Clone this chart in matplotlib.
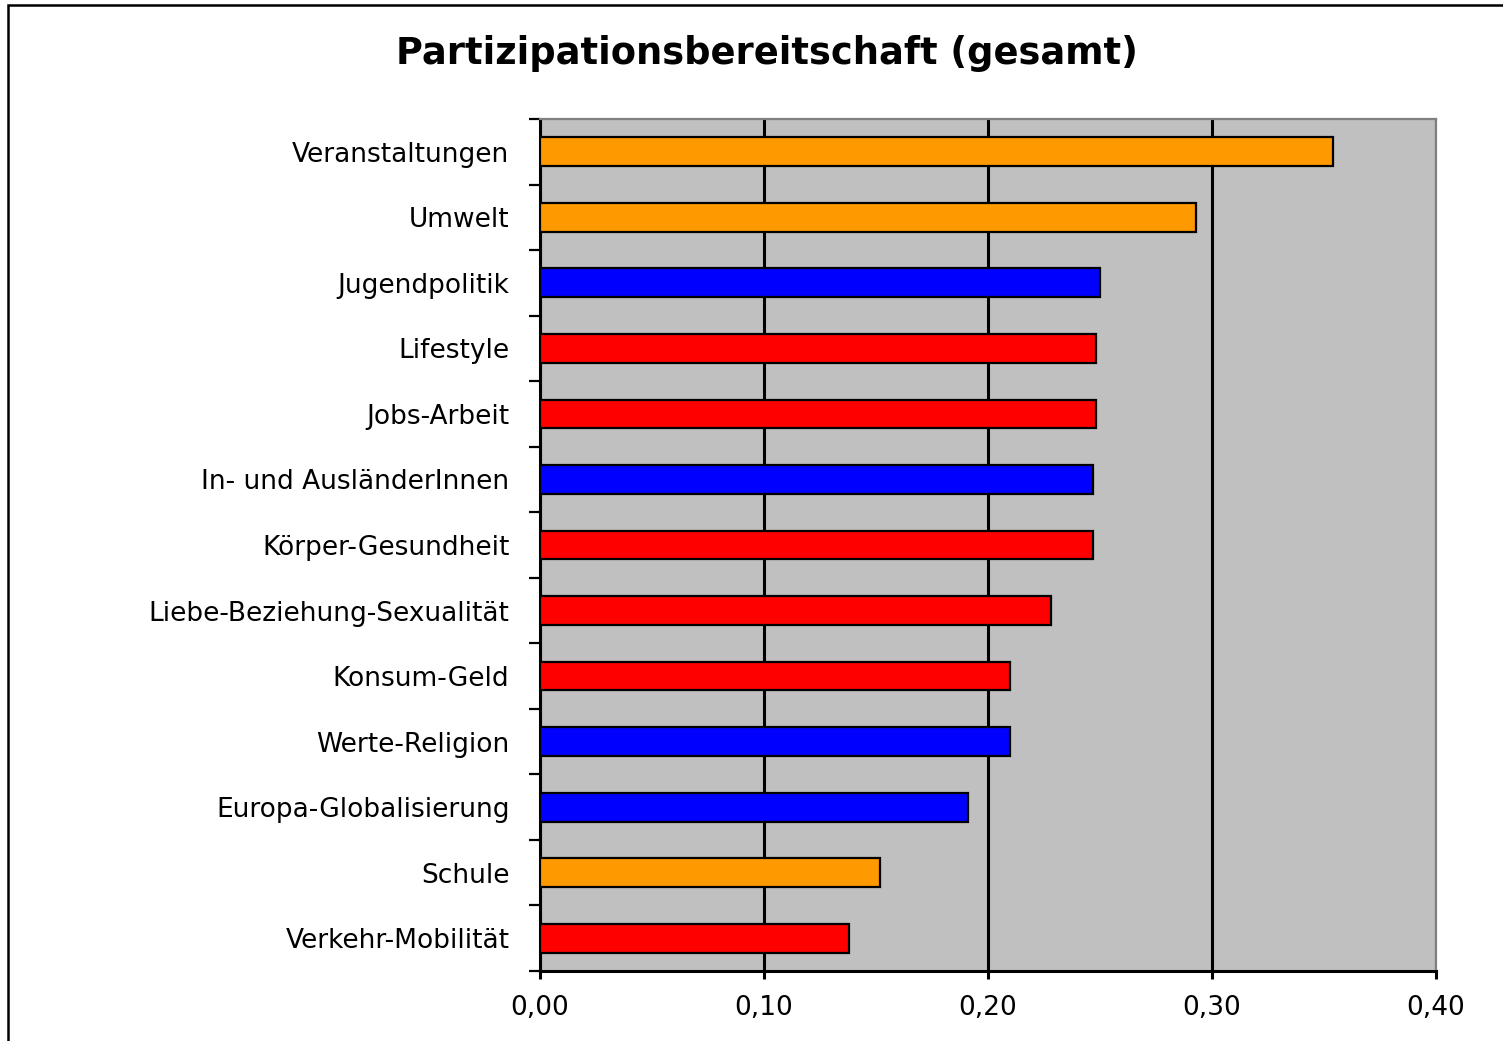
import matplotlib
matplotlib.use("Agg")
import matplotlib.pyplot as plt
from matplotlib.patches import Rectangle
from matplotlib.ticker import FuncFormatter, FixedLocator
import numpy as np

categories = [
    "Veranstaltungen", "Umwelt", "Jugendpolitik", "Lifestyle", "Jobs-Arbeit",
    "In- und AusländerInnen", "Körper-Gesundheit", "Liebe-Beziehung-Sexualität",
    "Konsum-Geld", "Werte-Religion", "Europa-Globalisierung", "Schule",
    "Verkehr-Mobilität",
]
values = [0.354, 0.293, 0.250, 0.248, 0.248, 0.247, 0.247, 0.228,
          0.210, 0.210, 0.191, 0.152, 0.138]
groups = ["orange", "orange", "blue", "red", "red", "blue", "red", "red",
          "red", "blue", "blue", "orange", "red"]
x_ticks = [0.0, 0.1, 0.2, 0.3, 0.4]
title = "Partizipationsbereitschaft (gesamt)"

palette = {"orange": "#FF9900", "blue": "#0000FF", "red": "#FF0000"}

plt.rcParams['font.family'] = ['DejaVu Sans']

W, H = 1503, 1041
fig = plt.figure(figsize=(W / 100, H / 100), dpi=100)
fig.patch.set_facecolor("white")

# outer chart frame
fig.patches.append(Rectangle((8 / W, -0.05), 1.2, (H - 5) / H + 0.05,
                             transform=fig.transFigure, fill=False,
                             edgecolor="black", linewidth=1.8, zorder=0))

ax = fig.add_axes([540 / W, (H - 971) / H, (1436 - 540) / W, (971 - 119) / H])
ax.set_facecolor("#C0C0C0")

n = len(categories)
ypos = np.arange(n)
ax.barh(ypos, values, height=0.44, color=[palette[g] for g in groups],
        edgecolor="black", linewidth=1.6, zorder=3)

ax.set_xlim(0, 0.4)
ax.set_ylim(n - 0.5, -0.5)

ax.set_xticks(x_ticks)
ax.xaxis.set_major_formatter(FuncFormatter(lambda v, p: f"{v:.2f}".replace(".", ",")))
ax.grid(axis="x", color="black", linewidth=2.2, zorder=1)
ax.set_axisbelow(True)

ax.set_yticks(ypos)
ax.set_yticklabels(categories)
ax.yaxis.set_minor_locator(FixedLocator(np.arange(-0.5, n, 1.0)))
ax.tick_params(axis="y", which="major", length=0, pad=22, labelsize=19)
ax.tick_params(axis="y", which="minor", length=8, width=1.6, direction="out")
ax.tick_params(axis="x", which="major", length=6, width=2.2, direction="out",
               pad=11, labelsize=19)

for s in ["left", "bottom"]:
    ax.spines[s].set_color("black")
    ax.spines[s].set_linewidth(2.2)
for s in ["top", "right"]:
    ax.spines[s].set_color("#808080")
    ax.spines[s].set_linewidth(1.6)

fig.text(767 / W, (H - 53) / H, title, ha="center", va="center",
         fontsize=26.5, fontweight="bold")

fig.savefig("out.png", dpi=100)
